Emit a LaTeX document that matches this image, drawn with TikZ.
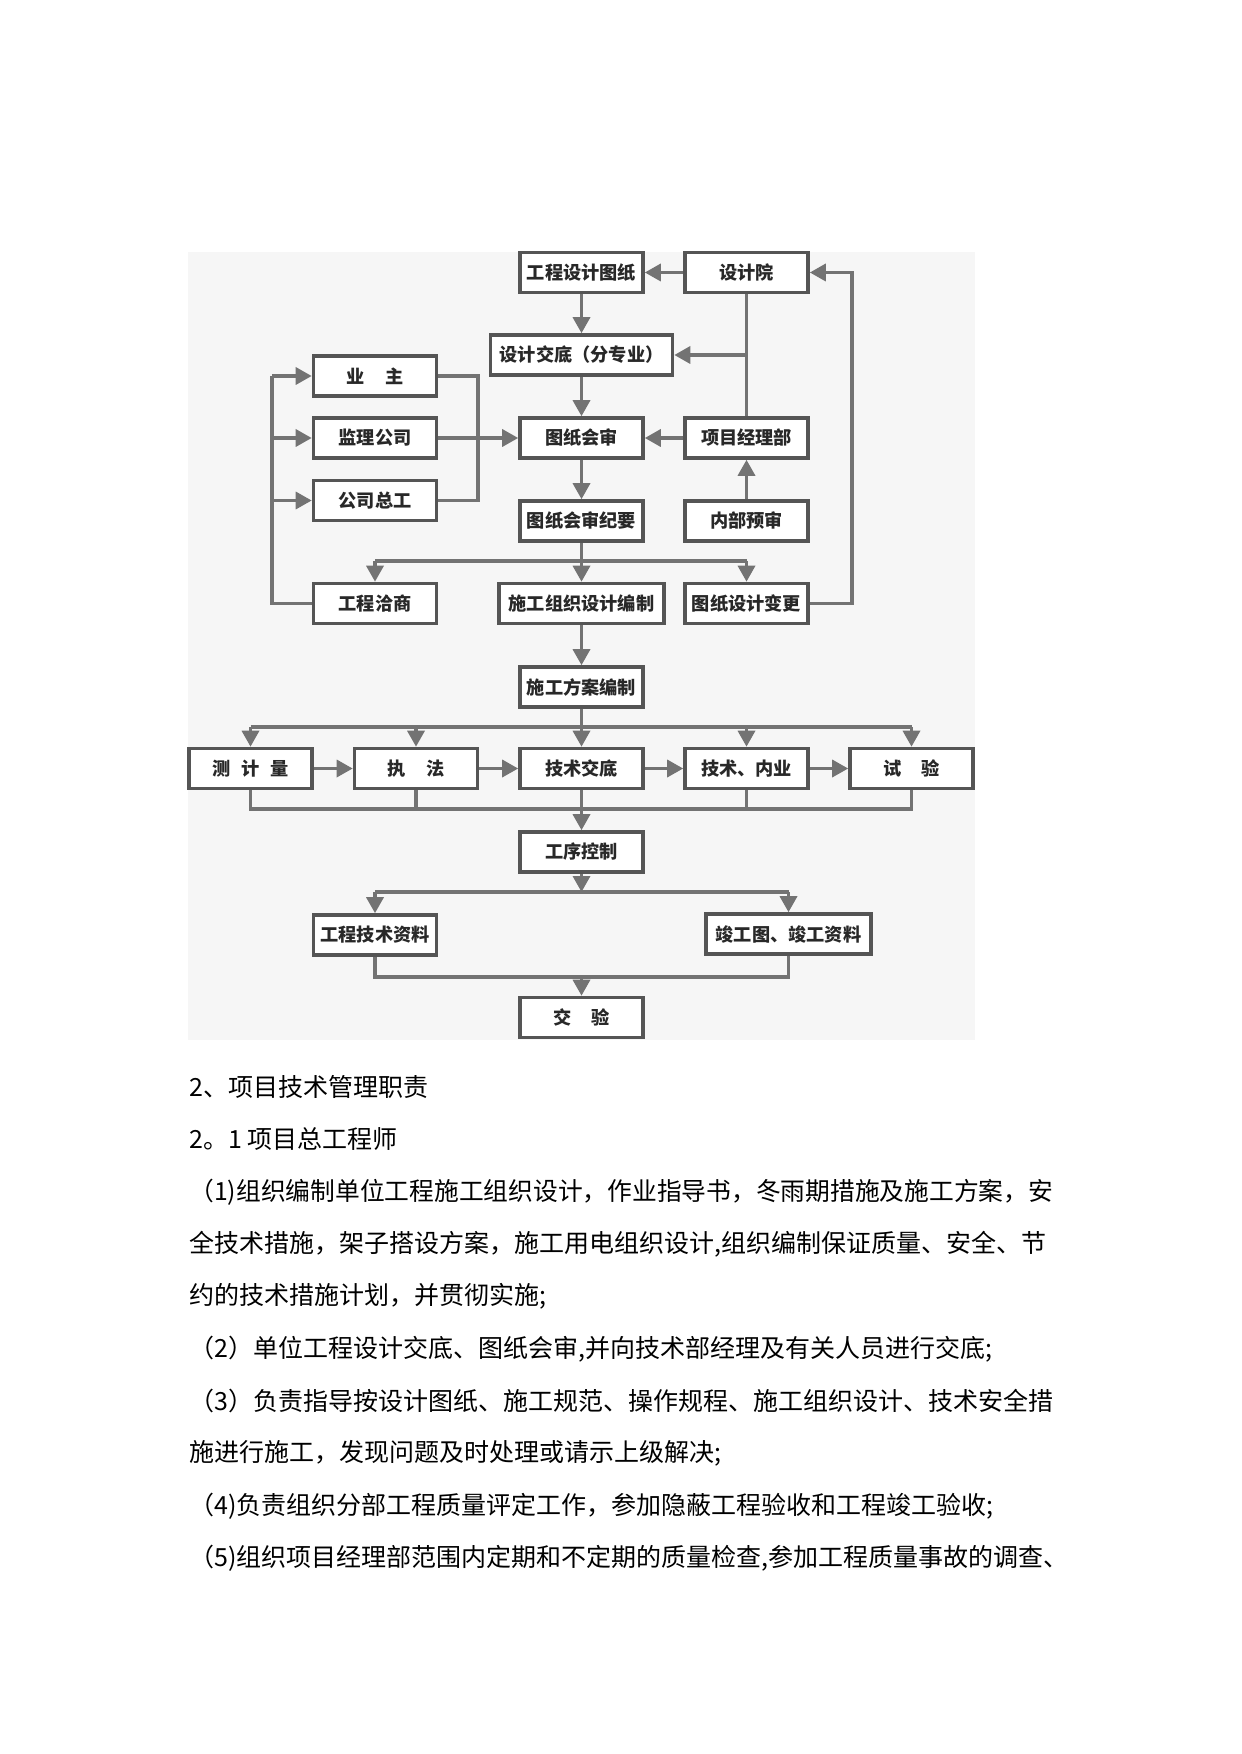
\documentclass[tikz,border=0pt]{standalone}
\usepackage{fontspec}
\setmainfont{Noto Sans CJK SC}
\usetikzlibrary{arrows.meta}
\definecolor{boxc}{RGB}{85,85,85}
\definecolor{linec}{RGB}{115,115,115}
\definecolor{bgc}{RGB}{246,246,246}
\definecolor{txtc}{RGB}{40,40,40}
\begin{document}
\begin{tikzpicture}[x=0.5pt,y=-0.5pt,
  box/.style={draw=boxc,line width=1.8pt,fill=white,minimum width=61.5pt,minimum height=20pt,inner sep=0pt,
    font=\fontsize{9.1pt}{10pt}\selectfont\bfseries,text=txtc},
  ln/.style={draw=linec,line width=1.7pt},
  arr/.style={ln,-{Triangle[length=8pt,width=8.5pt]}},
  body/.style={anchor=west,inner sep=0pt,font=\fontsize{12.5pt}{14pt}\selectfont}]
\useasboundingbox (0,0) rectangle (1241,1754);
\fill[bgc] (188,252) rectangle (975,1040);
% boxes
\node[box] (gcsj) at (581.5,272.5) {工程设计图纸};
\node[box] (sjy) at (746.5,272.5) {设计院};
\node[box,minimum width=91pt] (sjjd) at (581.5,355) {设计交底（分专业）};
\node[box] (yz) at (375,376) {业\hspace{1.1em}主};
\node[box] (jlgs) at (375,438) {监理公司};
\node[box] (tzhs) at (581.5,438) {图纸会审};
\node[box] (xmjl) at (746.5,438) {项目经理部};
\node[box] (gszg) at (375,500.5) {公司总工};
\node[box] (tzjy) at (581.5,521) {图纸会审纪要};
\node[box] (nbys) at (746.5,521) {内部预审};
\node[box] (gcqs) at (375,603.5) {工程洽商};
\node[box,minimum width=82.5pt] (sgzz) at (581.5,603.5) {施工组织设计编制};
\node[box] (tzbg) at (746.5,603.5) {图纸设计变更};
\node[box] (sgfa) at (581.5,687) {施工方案编制};
\node[box] (cjl) at (250.5,768.5) {测\hspace{0.6em}计\hspace{0.6em}量};
\node[box] (zf) at (416,768.5) {执\hspace{1.1em}法};
\node[box] (jsjd) at (581.5,768.5) {技术交底};
\node[box] (jsny) at (746.5,768.5) {技术、内业};
\node[box] (sy) at (911.5,768.5) {试\hspace{1.1em}验};
\node[box] (gxkz) at (581.5,852) {工序控制};
\node[box] (gcjs) at (375,935) {工程技术资料};
\node[box,minimum width=82.5pt] (jgt) at (788.5,934) {竣工图、竣工资料};
\node[box] (jy) at (581.5,1017.5) {交\hspace{1.1em}验};
% helper coordinates
\coordinate (br0) at (746.5,355);
\coordinate (rt) at (478,376);
\coordinate (rb) at (478,500.5);
\coordinate (lt) at (272,376);
\coordinate (lb) at (272,603.5);
\coordinate (b1) at (581.5,561);
\coordinate (lp1) at (852,603.5);
\coordinate (lp2) at (852,272.5);
\coordinate (b2) at (581.5,727);
\coordinate (b3) at (581.5,809);
\coordinate (b4) at (581.5,892);
\coordinate (b5) at (581.5,977);
% connectors top
\draw[arr] (sjy) -- (gcsj);
\draw[arr] (gcsj) -- (sjjd);
\draw[ln] (sjy.south) -- (xmjl.north);
\draw[arr] (br0) -- (sjjd.east);
\draw[arr] (sjjd) -- (tzhs);
\draw[arr] (xmjl) -- (tzhs);
\draw[arr] (nbys) -- (xmjl);
\draw[arr] (tzhs) -- (tzjy);
\draw[ln] (yz.east) -- (rt) -- (rb) -- (gszg.east);
\draw[arr] (jlgs) -- (tzhs);
\draw[ln] (gcqs.west) -- (lb) -- (lt);
\draw[arr] (lt) -- (yz.west);
\draw[arr] (lt |- jlgs) -- (jlgs.west);
\draw[arr] (lt |- gszg) -- (gszg.west);
\draw[ln] (tzjy.south) -- (b1);
\draw[ln] (gcqs |- b1) -- (tzbg |- b1);
\draw[arr] (b1) -- (sgzz.north);
\draw[arr] (gcqs |- b1) -- (gcqs.north);
\draw[arr] (tzbg |- b1) -- (tzbg.north);
\draw[arr] (tzbg.east) -- (lp1) -- (lp2) -- (sjy.east);
\draw[arr] (sgzz) -- (sgfa);
% middle
\draw[ln] (sgfa.south) -- (b2);
\draw[ln] (cjl |- b2) -- (sy |- b2);
\draw[arr] (cjl |- b2) -- (cjl.north);
\draw[arr] (zf |- b2) -- (zf.north);
\draw[arr] (b2) -- (jsjd.north);
\draw[arr] (jsny |- b2) -- (jsny.north);
\draw[arr] (sy |- b2) -- (sy.north);
\draw[arr] (cjl) -- (zf);
\draw[arr] (zf) -- (jsjd);
\draw[arr] (jsjd) -- (jsny);
\draw[arr] (jsny) -- (sy);
\draw[ln] (cjl.south) -- (cjl |- b3) -- (sy |- b3) -- (sy.south);
\draw[ln] (zf.south) -- (zf |- b3);
\draw[ln] (jsny.south) -- (jsny |- b3);
\draw[arr] (jsjd) -- (gxkz);
% bottom
\draw[arr] (gxkz.south) -- (b4);
\draw[ln] (gcjs |- b4) -- (jgt |- b4);
\draw[arr] (gcjs |- b4) -- (gcjs.north);
\draw[arr] (jgt |- b4) -- (jgt.north);
\draw[ln] (gcjs.south) -- (gcjs |- b5) -- (jgt |- b5) -- (jgt.south);
\draw[arr] (b5) -- (jy.north);
% body text
\node[body] (t1) at (189,1087) {2、项目技术管理职责};
\node[body] (t2) at (189,1139.4) {2。1 项目总工程师};
\node[body] (t3) at (189,1191.8) {\scalebox{0.99}[1]{（1)组织编制单位工程施工组织设计，作业指导书，冬雨期措施及施工方案，安}};
\node[body] (t4) at (189,1244.2) {全技术措施，架子搭设方案，施工用电组织设计,组织编制保证质量、安全、节};
\node[body] (t5) at (189,1296.6) {约的技术措施计划，并贯彻实施;};
\node[body] (t6) at (189,1349) {（2）单位工程设计交底、图纸会审,并向技术部经理及有关人员进行交底;};
\node[body] (t7) at (189,1401.4) {（3）负责指导按设计图纸、施工规范、操作规程、施工组织设计、技术安全措};
\node[body] (t8) at (189,1453.8) {施进行施工，发现问题及时处理或请示上级解决;};
\node[body] (t9) at (189,1506.2) {（4)负责组织分部工程质量评定工作，参加隐蔽工程验收和工程竣工验收;};
\node[body] (t10) at (189,1558.6) {（5)组织项目经理部范围内定期和不定期的质量检查,参加工程质量事故的调查、};
\end{tikzpicture}
\end{document}
